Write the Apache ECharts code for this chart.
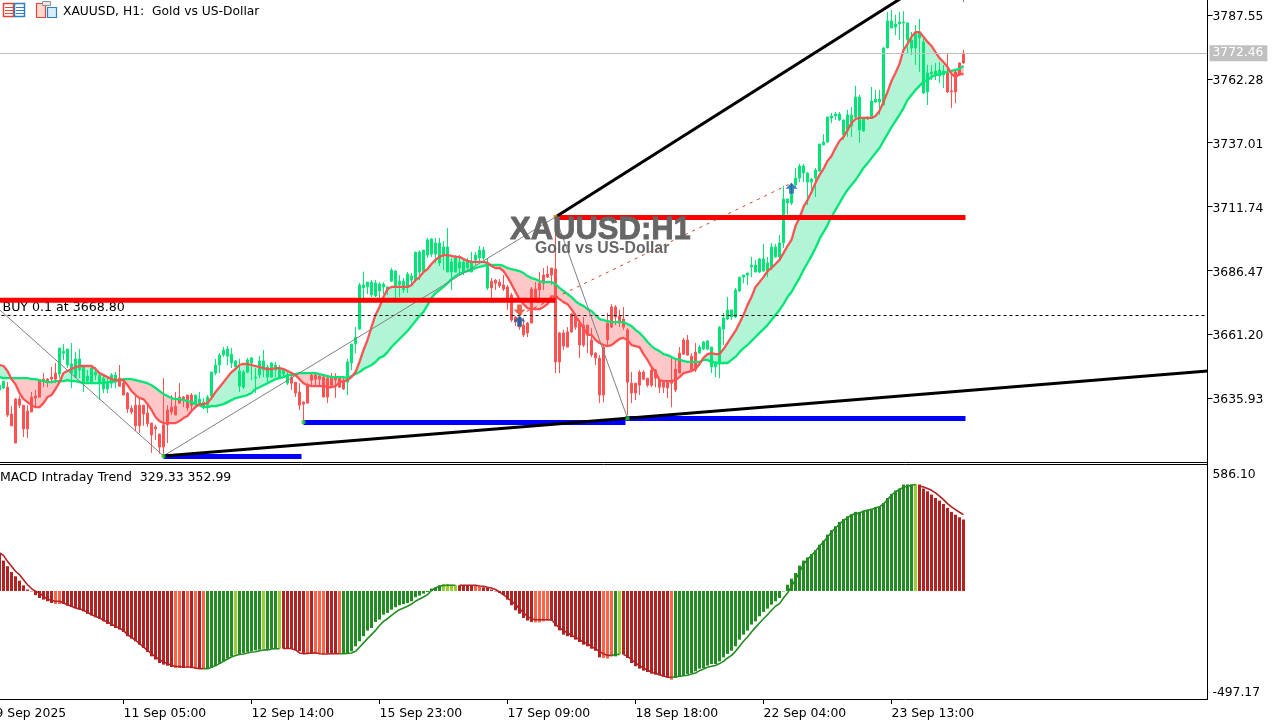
<!DOCTYPE html>
<html>
<head>
<meta charset="utf-8">
<title>XAUUSD H1</title>
<style>html,body{margin:0;padding:0;background:#fff;overflow:hidden}#chart{width:1282px;height:721px}</style>
<script src="https://cdn.jsdelivr.net/npm/echarts@6/dist/echarts.min.js"></script>
</head>
<body>
<div id="chart"></div>
<script>
// bar prices, one entry per hour, first entry sits just off the left edge
const wickHigh = [
3643,3642.6,3642.2,3632.7,3635.9,3636.7,3633.1,3633.1,3638.3,3639.1,
3642.6,3645.8,3643.8,3648.2,3649.8,3655.7,3657.3,3655.3,3657.7,3654.1,
3655.3,3649,3647,3648.2,3648.2,3645.8,3645,3644.2,3645.8,3646.2,
3649,3643.8,3638.3,3633.1,3637.1,3635.9,3633.1,3633.1,3626,3625.3,
3621.7,3643.8,3633.1,3637.1,3638.3,3641.8,3636.7,3637.1,3637.9,3637.1,
3638.3,3635.9,3637.1,3646.2,3651.4,3653.7,3656.1,3656.5,3655.7,3651,
3651.4,3647,3651.8,3652.2,3647.8,3652.5,3654.9,3649,3650.2,3650.2,
3649,3647.8,3646.2,3645.8,3642.2,3641.8,3634.7,3641.8,3646.2,3646.2,
3645.8,3645.4,3644.6,3645.8,3645.8,3644.6,3644.2,3651.4,3657.3,3664,
3681.5,3686,3681.8,3682.6,3682.6,3681.8,3681.8,3680.3,3687.4,3686.6,
3684.6,3683.4,3685.8,3685.4,3693.7,3694.5,3694.5,3699.3,3699.3,3699.3,
3699.3,3698.1,3703.2,3691.4,3692.5,3692.5,3691.4,3691.4,3693.7,3693.7,
3696.1,3695.7,3691.4,3683.4,3683,3683,3684.6,3680.7,3677.5,3668.4,
3667.6,3667.6,3666,3679.9,3681.8,3685.8,3687.4,3688.2,3687.4,3707.6,
3662.1,3662.9,3664,3669.6,3669.6,3666.8,3668,3664.8,3663.6,3654.1,
3652.9,3656.9,3669.6,3673.1,3672.7,3670.8,3672,3663.6,3646.2,3641.8,
3647,3647,3643.8,3647.8,3647.4,3643,3642.2,3642.2,3651.8,3651,
3656.1,3659.7,3660.9,3653.7,3657.7,3656.9,3658.5,3658.9,3656.1,3650.2,
3664.4,3669.6,3675.9,3670.8,3679.5,3683.8,3684.6,3685.4,3691.8,3690.6,
3691.4,3696.9,3691.8,3697.3,3696.9,3700.5,3719.9,3714.7,3721,3727,
3728.6,3728.6,3725.4,3723,3727,3736.5,3740.4,3747.2,3748.8,3749.2,
3749.2,3746,3750,3751.1,3759.5,3755.9,3747.2,3747.2,3759.1,3757.9,
3757.9,3774.9,3788.7,3789.5,3787.6,3788.7,3789.1,3784.8,3780.8,3783.6,
3786,3778.5,3767.8,3767.8,3768.6,3769,3767.8,3772.1,3765,3765.8,
3768.6,3773.7];
const bodyHigh = [
3641,3642.6,3640.2,3629.6,3635.5,3635.5,3633.1,3630.8,3636.3,3636.7,
3642.6,3643.4,3643.4,3644.2,3645.8,3655.7,3654.5,3655.3,3649.4,3651.4,
3651.4,3648.2,3644.6,3647.8,3646.2,3645,3643.8,3641.8,3645,3645,
3643.8,3641.8,3637.9,3631.9,3633.1,3633.1,3633.1,3630,3626,3624.5,
3621.7,3625.3,3631.2,3632.3,3632.7,3636.3,3636.3,3637.1,3637.1,3637.1,
3635.5,3634.3,3636.3,3646.2,3649,3652.9,3654.9,3655.3,3653.3,3650.6,
3646.6,3646.2,3651,3651.8,3644.2,3650.6,3650.6,3648.2,3649.8,3649,
3647.8,3647,3644.6,3644.2,3642.2,3638.3,3634.3,3641,3645,3645,
3644.6,3644.2,3643.8,3644.6,3644.6,3643.8,3642.6,3650.2,3657.3,3660,
3680.7,3680.7,3681.8,3681.8,3681.4,3681,3681,3679.9,3686.6,3686.2,
3682.2,3682.2,3685,3684.2,3693.7,3693.7,3694.5,3698.5,3698.9,3697.3,
3697.3,3695.7,3695.7,3689.8,3691.4,3689.8,3689.8,3689.8,3689.8,3692.5,
3694.5,3694.5,3688.2,3682.2,3682.6,3681.8,3680.7,3679.9,3676.7,3668,
3667.6,3664.8,3665.6,3679.1,3679.1,3681.4,3684.6,3685,3687.4,3687,
3661.7,3661.7,3662.1,3669.2,3668.4,3665.6,3664.8,3664.8,3658.9,3653.7,
3651.7,3656.1,3665.6,3672,3672,3668.4,3667.2,3662.9,3641.8,3641.8,
3646.2,3646.2,3643.8,3647,3647,3643,3642.2,3642.2,3643,3647.4,
3653.7,3658.9,3658.9,3652.5,3654.1,3656.1,3658.1,3658.5,3656.1,3650.2,
3664,3667.6,3670.8,3670.8,3678.7,3683.8,3684.6,3685.4,3688.6,3688.6,
3691,3691,3689.4,3695.7,3695.7,3697.3,3714.7,3714.7,3716.7,3723,
3727.8,3727.8,3725,3722.6,3726.2,3736.5,3737.3,3747.2,3747.6,3748.4,
3748.4,3746,3748,3748,3755.1,3755.1,3746.8,3747.2,3753.5,3754.3,
3754.3,3774.5,3785.2,3785.2,3784,3784.8,3784.8,3784.4,3777.7,3780.4,
3780.8,3776.9,3764.6,3765,3765.4,3765.8,3765.4,3764.6,3757.5,3765,
3768.6,3772.5];
const bodyLow = [
3639.1,3639.9,3629.2,3624.9,3618.1,3633.1,3623.7,3623.7,3630.4,3635.9,
3636.3,3642.6,3642.6,3643.4,3643.4,3645.4,3653.7,3649,3645.8,3644.2,
3647,3642.2,3642.6,3641.8,3645,3641.8,3639.5,3639.5,3641.8,3642.2,
3640.6,3637.1,3631.6,3630.4,3624.9,3624.9,3629.6,3625.7,3621.3,3623.7,
3616.5,3616.5,3625.3,3630.4,3629.2,3633.9,3635.1,3632,3633.1,3633.9,
3633.9,3632.3,3633.1,3636.7,3645.8,3649,3653,3652.5,3649.8,3648.2,
3640.6,3640.2,3646.2,3649.8,3643.8,3645,3647,3644.2,3644.2,3647,
3644.2,3645.4,3641.8,3641.8,3637.9,3633.1,3633.5,3633.9,3643,3643.4,
3643.4,3636.3,3636.3,3641,3643,3640.2,3639.5,3642.2,3649.8,3657.3,
3663.2,3679.5,3679.9,3676.7,3676.3,3678.3,3679.9,3678.7,3682.2,3679.9,
3680.7,3678.7,3679.5,3682.6,3682.6,3685.8,3686.2,3692.5,3692.9,3692.9,
3689.4,3692.9,3685.8,3685.8,3685.8,3687.4,3685.8,3687.4,3685.8,3690.6,
3691.4,3691.4,3679.5,3679.5,3681.4,3680.3,3679.1,3675.5,3666.8,3666,
3664,3660.9,3661.7,3665.6,3675.5,3678.7,3681.4,3683.8,3684.6,3650.2,
3650.2,3656.5,3656.1,3662.1,3664,3656.9,3656.9,3660.9,3653,3651.8,
3637.1,3637.1,3658.9,3664,3668,3666,3664,3642.2,3637.9,3637.9,
3641,3643.4,3641,3641,3643.8,3640.2,3640.2,3639.9,3641.8,3639.1,
3645.8,3653.3,3652.9,3647,3647,3653.7,3655.3,3655.3,3648.2,3648.2,
3649.4,3663.2,3667.2,3668,3668,3678.3,3683.8,3684.6,3687.8,3685.8,
3685.8,3686.2,3685.8,3687.4,3691.8,3691.8,3697.3,3713.1,3713.1,3720.3,
3723,3725,3721.4,3721.4,3723,3725.8,3736.1,3737.3,3746.8,3747.6,
3746,3740.1,3741.7,3743.6,3747.2,3742,3741.7,3746.4,3746.8,3753.1,
3753.1,3751.9,3774.5,3782.4,3782.8,3784,3784.4,3777.7,3774.5,3774.5,
3778.5,3756.7,3757.1,3764.2,3764.2,3763.4,3763.8,3757.1,3757.1,3757.1,
3763.8,3768.6];
const wickLow = [
3638.3,3639.5,3628.4,3624.9,3618.1,3631.9,3620.5,3620.1,3630.4,3632.3,
3636.3,3640.2,3640.2,3641.8,3641.8,3643.8,3651,3647.8,3639.9,3643.8,
3643.8,3638.3,3641.8,3641.8,3643,3635.1,3637.9,3637.9,3639.9,3639.9,
3640.6,3637.1,3630,3629.6,3622.9,3622.1,3624.9,3624.5,3614.2,3619.3,
3613.8,3613.8,3618.1,3629.2,3629.2,3633.9,3632.3,3630.8,3631.2,3631.9,
3633.1,3631.5,3630,3635.9,3645,3645.8,3652.2,3649,3647.8,3648.2,
3638.3,3639.5,3645.8,3643,3637.9,3643.8,3644.2,3642.2,3643.8,3644.2,
3643.8,3644.2,3641,3639.1,3636.3,3631.2,3627.2,3633.9,3641,3641,
3641,3636.3,3633.9,3640.2,3635.9,3639.9,3639.1,3637.1,3647,3653.7,
3662.9,3675.5,3677.1,3675.9,3675.9,3674.7,3677.1,3676.7,3681.8,3675.5,
3675.9,3677.5,3677.5,3680.7,3681.8,3682.6,3685.4,3691.4,3691.8,3689.4,
3688.2,3686.6,3685.8,3678.7,3685.8,3684.6,3684.6,3685.8,3685.8,3688.6,
3689.8,3690.6,3678.7,3675.5,3678.7,3679.5,3678.3,3670.8,3666,3664.4,
3662.9,3660.1,3660.1,3665.6,3675.5,3674.7,3678.7,3683.4,3680.7,3645.8,
3645.8,3654.9,3656.1,3661.7,3662.9,3651.8,3656.1,3653.7,3652.2,3649,
3633.9,3634.3,3656.9,3663.6,3664.8,3664,3662.9,3629.2,3633.9,3635.1,
3637.1,3643,3640.2,3640.2,3640.2,3637.9,3637.9,3635.9,3632.3,3638.3,
3645.8,3652.9,3652.9,3646.2,3646.2,3653.7,3654.9,3654.9,3645.8,3644.2,
3643.8,3656.9,3666.8,3666.8,3667.6,3677.9,3681.4,3680.7,3683.8,3685.8,
3685.4,3685.8,3683.8,3686.6,3691.4,3691.4,3695.3,3708.4,3712.3,3719.5,
3721.4,3721.4,3712.3,3717.1,3715.5,3725.4,3736.1,3736.9,3744.8,3746,
3745.6,3738.1,3739.3,3739.3,3746,3736.9,3741.3,3746,3746.8,3752.7,
3748,3751.9,3774.5,3782.4,3779.6,3777.7,3774.5,3772.5,3771.7,3767.8,
3765,3756.3,3751.9,3761.8,3761.8,3760.6,3758.7,3756.7,3750.7,3752.7,
3763.4,3768.2];

const fastMA = [
3649,3648.6,3646.6,3643.4,3641.4,3637.9,3635.5,3634.3,3633.1,3632.3,
3632.3,3633.9,3636.3,3637.1,3639.5,3642.2,3645.8,3646.6,3647.4,3648.2,
3648.6,3648.6,3648.6,3648.6,3647.4,3645.8,3645,3644.2,3643.4,3643,
3643,3643,3641,3638.7,3637.1,3635.9,3635.5,3633.5,3631.2,3628.4,
3626.8,3626,3626,3626,3626,3626.8,3628,3628.8,3630.8,3632.3,
3633.5,3633.5,3633.9,3635.9,3638.3,3640.2,3642.2,3644.2,3646.2,3647.4,
3649,3649.4,3649.4,3649,3648.6,3648.2,3647.8,3647.4,3647.4,3647.8,
3647.8,3647.4,3646.6,3645.8,3645,3643.4,3641.8,3641,3640.6,3640.6,
3640.6,3640.6,3640.2,3640.2,3640.6,3642.2,3642.6,3643,3644.2,3646.2,
3650.2,3654.9,3658.9,3664,3668.8,3672,3675.9,3679.1,3679.9,3679.9,
3679.9,3679.9,3679.9,3680.7,3682.6,3683.8,3685.8,3687,3689,3690.6,
3691.8,3692.5,3692.5,3692.2,3691.8,3691.8,3691,3690.2,3689.8,3689.8,
3689.8,3689.8,3689.4,3688.2,3687.4,3687.4,3686.2,3683.8,3681,3677.9,
3675.1,3673.1,3671.5,3671.1,3671.1,3671.1,3672,3673.1,3676.3,3675.9,
3675.1,3673.9,3673.1,3671.1,3668.4,3666,3663.6,3660.9,3660.9,3658.9,
3657.7,3656.9,3656.5,3656.9,3658.1,3659.3,3659.7,3658.9,3656.9,3656.5,
3656.1,3653.3,3651,3648.2,3646.2,3643,3642.6,3642.6,3642.6,3643,
3644.2,3645.8,3646.2,3646.6,3647.4,3649.4,3651.8,3653.3,3653.7,3653.3,
3653.3,3655.3,3657.7,3660.1,3662.5,3665.6,3668.8,3672.7,3675.9,3679.9,
3681.8,3683.8,3686.2,3687.4,3689,3690.6,3693.3,3696.1,3698.5,3704,
3707.2,3711.6,3714.3,3717.5,3721.1,3724.2,3726.6,3729.8,3731.7,3734.9,
3737.7,3739.3,3742,3744.8,3746.4,3746.8,3746.8,3746.8,3746.8,3747.6,
3749.6,3753.1,3757.1,3761.4,3764.6,3768.2,3773.7,3776.1,3778.9,3780.8,
3780.8,3778.9,3776.9,3775.3,3772.9,3770.5,3768.9,3767,3764.2,3763,
3764.2,3764.2];
const slowMA = [
3644.2,3643.8,3643.8,3643.8,3643.8,3643.8,3643.8,3643.8,3643.4,3643.4,
3643,3642.6,3642.2,3642.2,3642.6,3642.6,3642.6,3643,3642.6,3642.6,
3642.2,3641.8,3641.8,3641.8,3641.8,3641.8,3641.8,3642.2,3642.2,3642.6,
3643,3643.4,3643.4,3643.4,3643,3642.6,3642.2,3641.8,3641,3639.9,
3638.7,3637.5,3636.7,3635.9,3635.5,3635.5,3635.1,3634.7,3634.3,3633.5,
3633.1,3632.3,3632.3,3632.7,3632.7,3633.1,3633.5,3634.3,3635.1,3635.9,
3636.3,3636.7,3637.1,3637.9,3639.5,3640.2,3641,3641.8,3642.6,3643.4,
3643.8,3644.2,3645,3645,3645.4,3645.8,3645.8,3645.8,3645.8,3645.8,
3645.4,3645,3644.6,3644.2,3644.2,3644.2,3644.2,3643.8,3644.6,3645.4,
3646.2,3647.4,3648.2,3649,3650.2,3651.8,3652.5,3654.1,3656.1,3657.7,
3659.3,3660.9,3662.5,3664.4,3666.4,3668.4,3670,3672.7,3675.5,3677.5,
3678.7,3679.9,3681.4,3683,3684.2,3685,3685.8,3686.2,3686.6,3687.4,
3687.8,3688.2,3688.6,3688.6,3688.6,3688.6,3688.2,3687.4,3687,3686.6,
3686.2,3685.4,3684.2,3683.4,3683,3682.2,3681.8,3681.8,3681.8,3681,
3679.5,3678.3,3677.1,3675.9,3674.3,3673.1,3672.4,3671.1,3670.4,3668.8,
3667.2,3666.8,3666.4,3666,3666,3666,3666,3665.2,3664.4,3662.9,
3661.7,3660.1,3658.1,3656.5,3655.3,3654.5,3653.3,3652.9,3652.2,3651.4,
3651,3650.6,3650.2,3650.2,3650.2,3650.2,3651,3651,3650.2,3649.8,
3649.8,3649.8,3649.8,3651,3652.2,3654.1,3655.7,3656.9,3658.5,3660.1,
3661.7,3663.2,3664.8,3666.8,3668.8,3670.8,3673.1,3675.9,3677.9,3680.7,
3683.4,3686.6,3689.4,3692.2,3695.3,3698.9,3701.6,3704.4,3707.6,3710.4,
3713.1,3715.9,3718.3,3720.3,3722.2,3724.6,3727,3728.9,3730.9,3732.9,
3734.9,3737.7,3740.4,3743.2,3745.6,3748,3750.7,3753.9,3755.9,3757.9,
3759.5,3761.1,3761.8,3763,3763.8,3764.2,3764.6,3765,3765.4,3765.8,
3766.2,3767.4];

const macdHist = [
189,151,123,94,73,51,28,7,-2,-21,
-35,-43,-51,-60,-65,-65,-65,-73,-80,-85,
-93,-101,-114,-121,-131,-139,-151,-164,-174,-184,
-192,-204,-225,-237,-250,-267,-283,-303,-325,-341,
-358,-366,-371,-378,-383,-383,-383,-379,-384,-386,
-386,-388,-388,-383,-374,-363,-350,-336,-325,-316,
-313,-308,-303,-300,-295,-292,-288,-288,-287,-287,
-287,-287,-287,-288,-293,-300,-308,-313,-312,-310,
-310,-313,-310,-313,-313,-313,-313,-313,-300,-275,
-250,-225,-197,-184,-154,-142,-118,-109,-93,-81,
-71,-65,-60,-51,-31,-23,-13,-5,12,18,
28,35,35,31,28,28,28,28,28,28,
23,18,15,7,-2,-10,-21,-43,-71,-96,
-113,-134,-147,-154,-156,-156,-151,-147,-147,-176,
-196,-217,-225,-230,-242,-254,-267,-275,-287,-297,
-330,-333,-336,-325,-325,-316,-316,-333,-358,-374,
-386,-396,-403,-411,-416,-419,-426,-432,-441,-432,
-426,-419,-413,-408,-399,-386,-383,-371,-363,-363,
-350,-330,-313,-297,-275,-242,-217,-197,-167,-151,
-126,-104,-88,-68,-51,-35,-2,31,61,89,
126,151,167,184,202,230,250,280,302,321,
343,358,371,379,393,393,399,404,409,416,
418,437,462,482,499,509,529,529,529,532,
529,509,495,479,462,449,432,413,393,379,
366,355];
const macdSignal = [
189,177,147,123,98,81,56,31,12,-2,
-10,-27,-40,-48,-51,-51,-60,-68,-76,-85,
-89,-96,-106,-118,-126,-134,-146,-154,-164,-176,
-184,-197,-217,-230,-245,-262,-278,-295,-312,-328,
-341,-353,-361,-370,-374,-376,-378,-378,-378,-383,
-386,-386,-386,-379,-371,-361,-350,-338,-328,-321,
-316,-313,-308,-303,-302,-297,-293,-293,-288,-287,
-287,-287,-285,-287,-293,-308,-312,-310,-308,-307,
-312,-313,-313,-312,-312,-312,-312,-310,-308,-300,
-280,-258,-237,-217,-196,-172,-151,-138,-121,-106,
-93,-85,-76,-65,-51,-40,-30,-18,2,15,
23,27,28,28,28,28,28,28,28,28,
25,23,18,15,7,-5,-18,-35,-51,-68,
-88,-109,-126,-138,-143,-143,-143,-143,-143,-164,
-184,-196,-209,-220,-230,-242,-254,-263,-275,-288,
-300,-313,-320,-320,-316,-315,-316,-325,-341,-358,
-371,-383,-393,-403,-409,-416,-423,-428,-429,-426,
-424,-421,-419,-413,-408,-396,-388,-379,-374,-370,
-361,-350,-333,-320,-300,-275,-250,-229,-204,-181,
-159,-138,-118,-96,-76,-63,-35,-10,23,56,
94,131,156,177,197,222,244,267,293,313,
333,350,363,379,383,388,396,401,404,413,
418,432,454,476,492,504,515,520,525,529,
520,517,509,500,487,471,454,434,418,404,
391,379];

// runs of [lastIndex, state], bar colour states
const candleRuns = [[2,'up'],[15,'down'],[30,'up'],[49,'down'],[73,'up'],[87,'down'],[123,'up'],[175,'down'],[237,'up'],[241,'down']];
const histRuns = [[14,'fall'],[16,'weak'],[44,'fall'],[46,'weak'],[47,'fall'],[48,'weak'],[49,'fall'],[50,'weak'],[51,'fall'],[52,'weak'],
  [59,'rise'],[60,'soft'],[66,'rise'],[67,'soft'],[70,'rise'],[71,'soft'],[77,'fall'],[78,'weak'],[79,'fall'],[82,'weak'],[85,'fall'],[86,'weak'],
  [111,'rise'],[115,'soft'],[119,'fall'],[121,'weak'],[134,'fall'],[138,'weak'],[151,'fall'],[154,'weak'],[155,'rise'],[156,'soft'],[168,'fall'],[169,'weak'],
  [229,'rise'],[230,'soft'],[241,'fall']];

// axis ticks
const priceTicks = [3635.93,3661.20,3686.47,3711.74,3737.01,3762.28,3787.55];
const macdTicks = [-497.17,586.10];
const timeTickBars = [-1,31,63,95,127,159,191,223];
const timeTickLabels = ['9 Sep 2025','11 Sep 05:00','12 Sep 14:00','15 Sep 23:00','17 Sep 09:00','18 Sep 18:00','22 Sep 04:00','23 Sep 13:00'];
const lastPrice = 3772.46;
const buyPrice = 3668.80;

// chart objects in [bar, price]
const trendLow = [[41,3613],[302,3646.6]];
const trendHigh = [[139,3707.6],[226.5,3795.3]];
const resistOld = [[-1,3674.6],[139,3674.6]];
const resistNew = [[139,3707.4],[241.5,3707.4]];
const supportA = [[41,3612.8],[75.5,3612.8]];
const supportB = [[76,3626.2],[156.5,3626.2]];
const supportC = [[156.5,3627.8],[241.5,3627.8]];
const zigzag = [[-1,3672.3],[41,3613],[139,3707.6],[157,3627.9]];
const zigzagTip = [[241,3793.5],[241,3792.7]];
const tradeLine = [[130,3668.8],[198,3721]];
const buyArrows = [[130,3666.4],[198,3719]];
const sellArrows = [[130,3670.8]];
const greenDots = [[41,3612.9],[76,3626.4],[157,3627.9]];
const orangeDots = [[139,3707.6]];

const GREEN = '#00E676', RED = '#FF5252';
const HIST = {fall:'#B22222', weak:'#FF6347', rise:'#228B22', soft:'#9ACD32'};
const FONT = 'DejaVu Sans';
// side labels sit a little below their tick in the terminal
const sideLabel = {customValues:null, margin:5, formatter:v => '{v|' + v.toFixed(2) + '}',
    rich:{v:{color:'#000', fontFamily:FONT, fontSize:12.3, padding:[4,0,0,0]}}};

function stateAt(runs, k) {
    for (const r of runs) if (k < r[0]) return r[1];
    return runs[runs.length - 1][1];
}

const candleData = wickHigh.map((h, k) => {
    const c = stateAt(candleRuns, k) === 'up' ? GREEN : RED;
    return {value:[k, bodyLow[k], bodyHigh[k], wickLow[k], h], itemStyle:{color:c, color0:c, borderColor:c, borderColor0:c}};
});
const histData = macdHist.map((v, k) => ({value:[k, v], itemStyle:{color:HIST[stateAt(histRuns, k)]}}));
const isGreenSig = k => { const s = stateAt(histRuns, k); return s === 'rise' || s === 'soft'; };
const sigGreen = macdSignal.map((v, k) => [k, (isGreenSig(k) || isGreenSig(k + 1)) ? v : null]);
const sigRed = macdSignal.map((v, k) => [k, (!isGreenSig(k)) ? v : null]);
const cloudData = fastMA.map((f, k) => [k, f, slowMA[k]]);

// filled cloud between the two averages, split where they cross
function renderCloud(params, api) {
    const k = api.value(0);
    if (k >= fastMA.length - 1) return;
    const a1 = api.coord([k, api.value(1)]), b1 = api.coord([k, api.value(2)]);
    const a2 = api.coord([k + 1, fastMA[k + 1]]), b2 = api.coord([k + 1, slowMA[k + 1]]);
    const d1 = fastMA[k] - slowMA[k], d2 = fastMA[k + 1] - slowMA[k + 1];
    const col = d => d >= 0 ? '#B2F5D6' : '#FFC8C8';
    const poly = (pts, d) => ({type:'polygon', shape:{points:pts}, style:{fill:col(d), stroke:col(d), lineWidth:0.8}});
    if (d1 * d2 >= 0) return poly([a1, a2, b2, b1], d1 + d2);
    const t = d1 / (d1 - d2);
    const m = [a1[0] + (a2[0] - a1[0]) * t, a1[1] + (a2[1] - a1[1]) * t];
    return {type:'group', children:[poly([a1, m, b1], d1), poly([m, a2, b2], d2)]};
}

function objLine(data, color, width, extra) {
    return Object.assign({type:'line', data:data, symbol:'none', silent:true, xAxisIndex:0, yAxisIndex:0, z:5,
        lineStyle:{color:color, width:width, cap:'butt'}}, extra || {});
}
function dots(data, color) {
    return {type:'scatter', data:data, symbol:'rect', symbolSize:4, itemStyle:{color:color}, xAxisIndex:0, yAxisIndex:0, z:7, silent:true};
}
const ARROW_UP = 'path://M5 0L10 5.5H7V10H3V5.5H0Z';
const ARROW_DOWN = 'path://M3 0H7V4.5H10L5 10L0 4.5H3Z';

const chart = echarts.init(document.getElementById('chart'), null, {renderer:'canvas', width:1282, height:721});
chart.setOption({
    animation:false,
    backgroundColor:'#fff',
    grid:[
        {left:-4.5, top:0, width:1212, height:462.5, outerBoundsMode:'none'},
        {left:-4.5, top:465, width:1212, height:234, outerBoundsMode:'none'}
    ],
    xAxis:[
        {type:'value', gridIndex:0, min:-1, max:302, splitLine:{show:false}, axisLine:{onZero:false, lineStyle:{color:'#000'}}, axisTick:{show:false}, axisLabel:{show:false}},
        {type:'value', gridIndex:1, min:-1, max:302, splitLine:{show:false},
            axisLine:{onZero:false, lineStyle:{color:'#000'}},
            axisTick:{customValues:timeTickBars, length:5, lineStyle:{color:'#000'}},
            axisLabel:{customValues:timeTickBars, align:'left', margin:9, color:'#000', fontFamily:FONT, fontSize:12.4,
                formatter:v => timeTickLabels[timeTickBars.indexOf(v)]}}
    ],
    yAxis:[
        {type:'value', gridIndex:0, position:'right', min:3610.4, max:3793.5, scale:true, splitLine:{show:false},
            axisLine:{show:true, onZero:false, lineStyle:{color:'#000'}},
            axisTick:{show:true, customValues:priceTicks, length:5, lineStyle:{color:'#000'}},
            axisLabel:Object.assign({}, sideLabel, {customValues:priceTicks})},
        {type:'value', gridIndex:1, position:'right', min:-536.9, max:625.9, splitLine:{show:false},
            axisLine:{show:true, onZero:false, lineStyle:{color:'#000'}},
            axisTick:{show:false},
            axisLabel:Object.assign({}, sideLabel, {customValues:macdTicks})}
    ],
    series:[
        {type:'custom', xAxisIndex:0, yAxisIndex:0, data:cloudData, renderItem:renderCloud, silent:true, z:1, clip:true,
            encode:{x:0, y:[1, 2]}},
        {type:'candlestick', xAxisIndex:0, yAxisIndex:0, data:candleData, barWidth:3, silent:true, z:2, large:false, progressive:0},
        {type:'line', xAxisIndex:0, yAxisIndex:0, data:slowMA.map((v, k) => [k, v]), symbol:'none', silent:true, z:3, lineStyle:{color:GREEN, width:2.3}},
        {type:'line', xAxisIndex:0, yAxisIndex:0, data:fastMA.map((v, k) => [k, v]), symbol:'none', silent:true, z:4, lineStyle:{color:RED, width:2.3},
            markLine:{silent:true, symbol:'none', animation:false, precision:2, data:[
                {yAxis:lastPrice, lineStyle:{color:'#C0C0C0', width:1, type:'solid'},
                    label:{position:'end', formatter:lastPrice.toFixed(2), distance:2, color:'#fff', backgroundColor:'#C0C0C0', padding:[3,4,1,3], fontFamily:FONT, fontSize:12.3}},
                {yAxis:buyPrice, lineStyle:{color:'#000', width:1, type:[3,3]},
                    label:{position:'insideStartTop', formatter:'BUY 0.1 at 3668.80', distance:1, padding:[0,0,0,6], color:'#000', fontFamily:FONT, fontSize:12.6}}
            ]}},
        objLine(zigzag, '#808080', 1),
        objLine(zigzagTip, '#808080', 1),
        objLine(tradeLine, '#E04020', 1, {lineStyle:{color:'#E04020', width:1, type:[3,5]}}),
        objLine(resistOld, '#FF0000', 5),
        objLine(resistNew, '#FF0000', 5),
        objLine(supportA, '#0000FF', 5),
        objLine(supportB, '#0000FF', 5),
        objLine(supportC, '#0000FF', 5),
        objLine(trendLow, '#000', 3),
        objLine(trendHigh, '#000', 3),
        dots(greenDots, '#32CD32'),
        dots(orangeDots, '#FF8C00'),
        {type:'scatter', data:buyArrows, symbol:ARROW_UP, symbolSize:[12,11], itemStyle:{color:'#0B5CA8'}, xAxisIndex:0, yAxisIndex:0, z:8, silent:true},
        {type:'scatter', data:sellArrows, symbol:ARROW_DOWN, symbolSize:[12,11], itemStyle:{color:'#E04020'}, xAxisIndex:0, yAxisIndex:0, z:8, silent:true},
        {type:'bar', xAxisIndex:1, yAxisIndex:1, data:histData, barWidth:3, silent:true, z:2},
        {type:'line', xAxisIndex:1, yAxisIndex:1, data:sigRed, symbol:'none', silent:true, z:3, lineStyle:{color:HIST.fall, width:1.6}},
        {type:'line', xAxisIndex:1, yAxisIndex:1, data:sigGreen, symbol:'none', silent:true, z:3, lineStyle:{color:HIST.rise, width:1.6}}
    ],
    graphic:[
        {type:'line', z:20, shape:{x1:0, y1:464.5, x2:1207, y2:464.5}, style:{stroke:'#000', lineWidth:1}},
        {type:'line', z:20, shape:{x1:1207.5, y1:0, x2:1207.5, y2:699}, style:{stroke:'#000', lineWidth:1}},
        // table icon
        {type:'rect', z:20, shape:{x:3.5, y:3.5, width:10, height:13}, style:{fill:'#fff', stroke:'#E0453A', lineWidth:1.5}},
        {type:'rect', z:20, shape:{x:14.5, y:3.5, width:10, height:13}, style:{fill:'#fff', stroke:'#2E7FC2', lineWidth:1.5}},
        {type:'line', z:20, shape:{x1:5, y1:7.5, x2:13, y2:7.5}, style:{stroke:'#E0453A'}},
        {type:'line', z:20, shape:{x1:5, y1:10.5, x2:13, y2:10.5}, style:{stroke:'#E0453A'}},
        {type:'line', z:20, shape:{x1:5, y1:13.5, x2:13, y2:13.5}, style:{stroke:'#E0453A'}},
        {type:'line', z:20, shape:{x1:16, y1:7.5, x2:24, y2:7.5}, style:{stroke:'#2E7FC2'}},
        {type:'line', z:20, shape:{x1:16, y1:10.5, x2:24, y2:10.5}, style:{stroke:'#2E7FC2'}},
        {type:'line', z:20, shape:{x1:16, y1:13.5, x2:24, y2:13.5}, style:{stroke:'#2E7FC2'}},
        // chart window icon
        {type:'rect', z:20, shape:{x:36.5, y:3.5, width:9, height:14}, style:{fill:'#FFD8D0', stroke:'#E0453A', lineWidth:1.2}},
        {type:'rect', z:20, shape:{x:47.5, y:7.5, width:9, height:10}, style:{fill:'#D8ECFF', stroke:'#2E7FC2', lineWidth:1.2}},
        {type:'rect', z:21, shape:{x:42.5, y:1.5, width:8, height:4}, style:{fill:'#E8E8E8', stroke:'#909090', lineWidth:1}},
        {type:'text', z:20, x:63, y:6, style:{text:'XAUUSD, H1:  Gold vs US-Dollar', font:'12.3px "DejaVu Sans"', fill:'#000'}},
        {type:'text', z:20, x:0, y:471, style:{text:'MACD Intraday Trend  329.33 352.99', font:'12.5px "DejaVu Sans"', fill:'#000'}},
        {type:'text', z:20, x:510, y:215, style:{text:'XAUUSD:H1', font:'bold 31px "Liberation Sans"', fill:'#666', stroke:'#666', lineWidth:0.8}},
        {type:'text', z:20, x:535, y:241, style:{text:'Gold vs US-Dollar', font:'bold 15.8px "Liberation Sans"', fill:'#666'}}
    ]
});
</script>
</body>
</html>
